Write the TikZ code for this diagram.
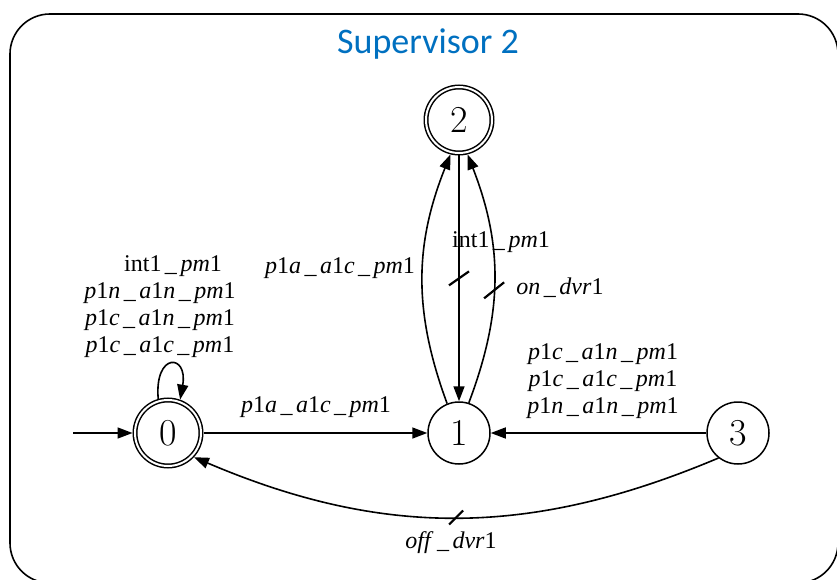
\documentclass[tikz,border=0pt]{standalone}
\usepackage{fontspec}
\usepackage{xcolor}
\usetikzlibrary{arrows.meta}
\newfontfamily\lblfont{Liberation Serif}
\newfontfamily\titlefont{Carlito}
\definecolor{supblue}{RGB}{0,112,192}
\newcommand{\iv}[1]{\textit{#1}}
\newcommand{\us}{\kern3.5pt\_\kern3.5pt}
\newcommand{\ev}[2]{\iv{p}1\iv{#1}\us\iv{a}1\iv{#2}\us\iv{pm}1}

\begin{document}
\begin{tikzpicture}[x=1pt,y=1pt,
  state/.style={circle,draw,line width=1.5pt,minimum size=62pt,inner sep=0pt,
    font=\fontsize{38}{38}\selectfont},
  accept/.style={state,double,double distance=2pt,minimum size=66pt,outer sep=2.5pt},
  arr/.style={line width=1.6pt,-{Triangle[length=15pt,width=11pt]}},
  lbl/.style={font=\lblfont\fontsize{24}{27}\selectfont,inner sep=0pt,align=center},
  cut/.style={line width=2.2pt}]
  \useasboundingbox (0,0) rectangle (837,579);
  \clip (0,0) rectangle (837,579);
  \draw[line width=1.6pt,rounded corners=40pt] (10,-4) rectangle (838,565);
  \node[font=\titlefont\fontsize{36}{36}\selectfont,text=supblue] (title) at (428,535) {Supervisor 2};

  \node[accept] (s0) at (168,146) {0};
  \node[state] (s1) at (459,146) {1};
  \node[accept] (s2) at (459,459) {2};
  \node[state] (s3) at (738,146) {3};
  \coordinate (init) at (73,146);

  \draw[arr] (init) -- (s0);
  \draw[arr] (s0) -- (s1);
  \draw[arr] (s3) -- (s1);
  \draw[arr] (s0.106) .. controls +(95:47) and +(80:47) .. (s0.70);
  \draw[arr] (s1.112) to[bend left=21] (s2.256);
  \draw[arr] (s2) -- coordinate[pos=0.5] (cutm) (s1);
  \draw[arr] (s1.72) to[bend right=21] coordinate[pos=0.45] (cutr) (s2.284);
  \draw[arr] (s3.232) to[bend left=23] coordinate[pos=0.5] (cutb) (s0.317);
  \draw[cut] (cutm) ++(-10,-7) -- ++(20,14);
  \draw[cut] (cutr) ++(-10,-8) -- ++(20,16);
  \draw[cut] (cutb) ++(-7,-7) -- ++(14,14);

  \node[lbl] (l00) at (160,272) {\hspace*{26pt}int1\us\iv{pm}1\\\ev{n}{n}\\\ev{c}{n}\\\ev{c}{c}};
  \node[lbl] (l21) at (340,311) {\ev{a}{c}};
  \node[lbl] (l12) at (501,337) {int1\us\iv{pm}1};
  \node[lbl] (l12b) at (560,291) {\iv{on}\us\iv{dvr}1};
  \node[lbl] (l31) at (603,198) {\ev{c}{n}\\\ev{c}{c}\\\ev{n}{n}};
  \node[lbl] (l01) at (316,172) {\ev{a}{c}};
  \node[lbl] (l30) at (451,36) {\iv{off}\us\iv{dvr}1};
\end{tikzpicture}
\end{document}
